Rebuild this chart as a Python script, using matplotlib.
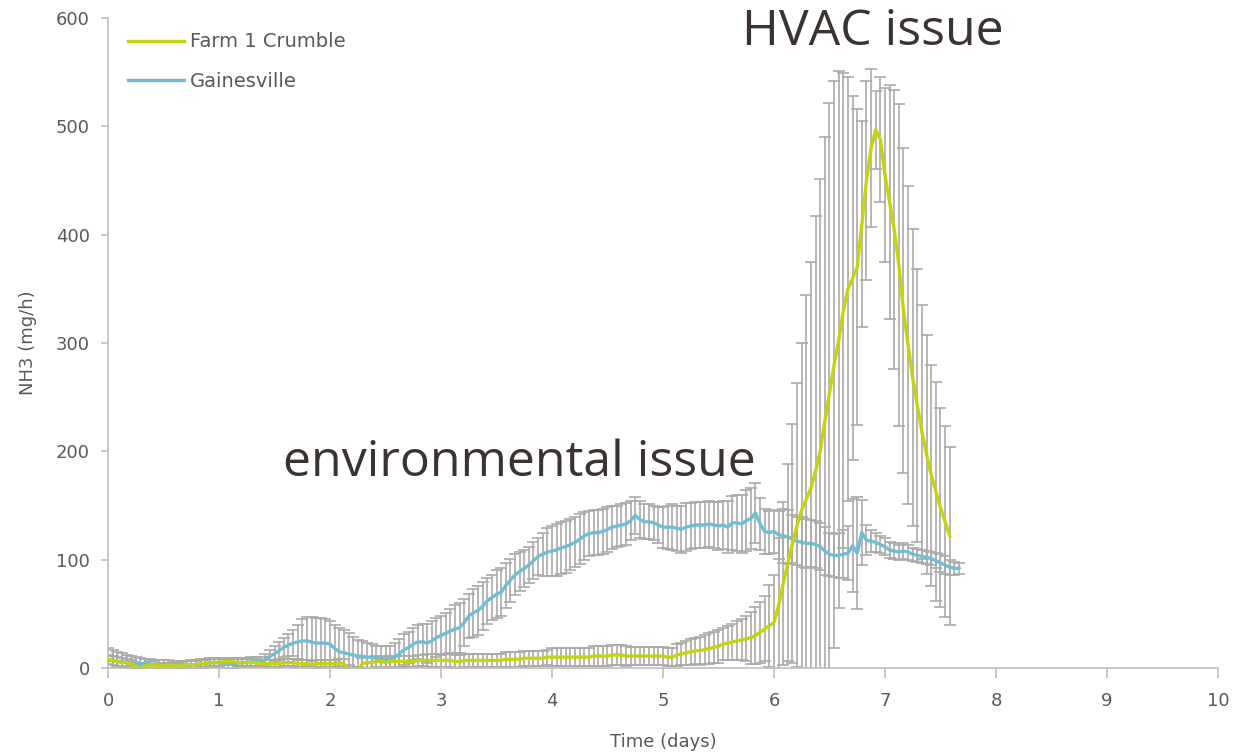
import matplotlib.pyplot as plt
import numpy as np

# hourly NH3 emission means and standard deviations (mg/h)
farm_mean = [
    8, 7, 6, 5, 5, 4, 1, -1, 2,
    3, 3, 2, 2, 2, 2, 2, 2, 3, 3, 3,
    4, 4, 5, 5, 5, 6, 6, 6, 5, 5, 5, 5,
    5, 4, 4, 4, 4, 4, 5, 5, 5, 4, 4, 4, 3, 4, 4, 4,
    4, 4, 5, 4, -2, -4, -3,
    4, 5, 5, 6, 6,
    5, 6, 6, 6, 6, 6, 6, 7, 7, 7, 7, 7,
    7, 7, 7, 6, 6, 7, 7, 7, 7, 7, 7, 7, 7, 7, 8, 8,
    8, 8, 9, 9, 9, 9, 9, 10,
    10, 10, 10, 10, 10, 10, 10, 10, 10, 11, 11, 11, 11, 12, 12, 12,
    11, 11, 11, 11, 11, 11, 11, 11, 11, 10, 10,
    12, 13, 14, 15, 16, 16, 17, 18, 19, 20, 22, 23, 24, 25, 26, 27, 28, 30, 33, 36, 39,
    42, 58, 78, 97, 115, 132, 146, 156, 166, 182,
    200, 228, 254, 280, 303, 330, 350, 360, 370, 410,
    450, 480, 497, 488, 455, 430, 405, 372, 330, 298,
    268, 242, 218, 197, 178, 163, 148, 135, 122,
]
farm_sd = [
    4, 4, 4, 4, 3, 3, 3, 3, 3, 3, 3, 3, 3, 3, 3, 3, 3, 3, 3, 3,
    3, 3, 3, 3, 3, 3, 3, 3, 3, 3, 3, 3, 3, 3, 3, 3, 3, 3, 3, 3,
    3, 3, 3, 3, 3, 3, 3, 3, 3, 3, 3, 4, 5, 5, 4,
    5, 5, 5, 5, 5, 5, 5, 5, 5, 5, 5, 5, 5, 5, 6, 6, 6,
    6, 6, 6, 6, 6, 6, 6, 6, 6, 6, 6, 6, 6, 6, 7, 7, 7, 7, 7, 7, 7, 7, 7, 7,
    8, 8, 8, 8, 8, 8, 8, 8, 8, 9, 9, 9, 9, 9, 9, 9, 9, 8, 8, 8, 8, 8, 8, 8, 8, 8, 8,
    10, 10, 11, 12, 12, 13, 13, 14, 14, 15, 15, 16, 17,
    18, 19, 21, 24, 26, 28, 30, 38, 44,
    62, 75, 91, 110, 131, 154, 188, 209, 235, 251, 262, 268,
    262, 248, 219, 196, 168, 146, 95, 92, 73, 36, 58, 80,
    108, 129, 149, 150, 147, 137, 126, 117, 110, 102, 101, 92, 88, 82,
]
gville_mean = [
    7, 7, 6, 6, 5, 5, 5, 4, 4, 4, 3, 3, 3, 3, 2, 2, 2, 2, 3, 3,
    4, 4, 5, 5, 5, 4, 4, 4, 5, 5, 5, 6, 6, 6,
    8, 11, 13, 16, 19, 21, 23, 24, 25, 25, 24, 23, 23, 23,
    22, 18, 15, 14, 13, 12, 11, 11, 10, 10, 9, 9, 8, 8,
    10, 13, 17, 19, 22, 24, 24, 23, 25, 28, 30, 32, 34, 36,
    37, 42, 48, 51, 53, 57, 62, 65, 68, 70, 76, 81, 86, 89, 92, 95, 99, 103, 105, 107, 108,
    109, 111, 112, 114, 116, 119, 122, 124, 125, 125, 126, 128,
    130, 131, 132, 133, 136, 141, 137, 135, 135, 134, 132, 130,
    130, 130, 129, 128, 130, 131, 132, 132, 132, 133, 132, 131,
    132, 130, 134, 134, 133, 136, 138, 143, 133, 126, 125, 126,
    123, 122, 121, 119, 117, 116, 115, 115, 114, 112, 108, 105, 104, 104, 105, 106,
    113, 106, 125, 118, 117, 116, 114, 112, 109, 108, 107, 108, 107, 105, 104, 103,
    102, 101, 99, 97, 95, 93, 92, 92,
]
gville_sd = [
    11, 10, 9, 8, 7, 6, 5, 5,
    4, 4, 4, 4, 4, 4, 4, 4, 4, 4, 4, 4, 4, 4, 4, 4, 4, 4, 4, 4, 4, 4, 4, 4, 4, 4,
    5, 6, 7, 8, 9, 10, 12, 16, 20, 22, 23, 23, 23, 22,
    21, 22, 22, 21, 19, 17, 15, 14, 13, 12, 11, 11, 12, 12,
    13, 14, 14, 14, 15, 16, 17, 18, 18, 18, 18, 19, 20, 22,
    23, 22, 20, 22, 23, 22, 21, 21, 22, 22, 21, 20, 19, 18, 17, 17, 17, 17, 20, 22, 23,
    24, 24, 24, 24, 23, 23, 22, 21, 21, 21, 21, 21,
    20, 19, 19, 19, 18, 17, 17, 16, 16, 16, 17, 19,
    20, 21, 21, 22, 22, 21, 21, 21, 21, 21, 21, 22,
    22, 24, 25, 26, 27, 28, 28, 28, 24, 21, 20, 20,
    22, 25, 25, 22, 22, 23, 23, 22, 22, 22, 22, 20, 20, 21, 22, 25,
    43, 52, 30, 14, 10, 9, 8, 8, 7, 7, 7, 7, 7, 6, 6, 6,
    6, 6, 7, 8, 8, 7, 6, 5,
]

farm_days = np.arange(len(farm_mean)) / 24
gville_days = np.arange(len(gville_mean)) / 24

grey = '#595959'
axis_grey = '#BFBFBF'

fig, ax = plt.subplots(figsize=(12.36, 7.53), dpi=100)
fig.subplots_adjust(left=0.0874, right=0.9854, bottom=0.1129, top=0.976)

bars = dict(fmt='none', ecolor='#ABA9A9', elinewidth=1.2, capsize=4, capthick=1.2, zorder=2)
ax.errorbar(farm_days, farm_mean, yerr=farm_sd, **bars)
ax.errorbar(gville_days, gville_mean, yerr=gville_sd, **bars)
l2, = ax.plot(gville_days, gville_mean, color='#6CC0D6', lw=2.4, zorder=3)
l1, = ax.plot(farm_days, farm_mean, color='#C4D600', lw=2.4, zorder=4)

ax.set_xlim(0, 10)
ax.set_ylim(0, 600)
ax.set_xticks(range(0, 11))
ax.set_yticks(range(0, 601, 100))

for side in ('top', 'right'):
    ax.spines[side].set_visible(False)
for side in ('left', 'bottom'):
    ax.spines[side].set_color(axis_grey)
    ax.spines[side].set_linewidth(1.2)
ax.tick_params(axis='x', direction='out', length=7, width=1.2, color=axis_grey,
               labelcolor=grey, labelsize=13, pad=10)
ax.tick_params(axis='y', direction='out', length=5, width=1.2, color=axis_grey,
               labelcolor=grey, labelsize=13, pad=8)

ax.set_xlabel('Time (days)', fontsize=13, color=grey, labelpad=17)
ax.set_ylabel('NH3 (mg/h)', fontsize=13, color=grey, labelpad=14)

ax.legend([l1, l2], ['Farm 1 Crumble', 'Gainesville'], loc='upper left',
          bbox_to_anchor=(0.002, 1.005), frameon=False, fontsize=14,
          handlelength=2.9, handletextpad=0.3, labelspacing=1.05,
          labelcolor=grey)

note = dict(fontsize=36, color='#3A3330', family='Open Sans', va='baseline')
ax.text(1.575, 177, 'environmental issue', **note)
ax.text(5.71, 575, 'HVAC issue', **note)

fig.savefig('out.png', dpi=100)
